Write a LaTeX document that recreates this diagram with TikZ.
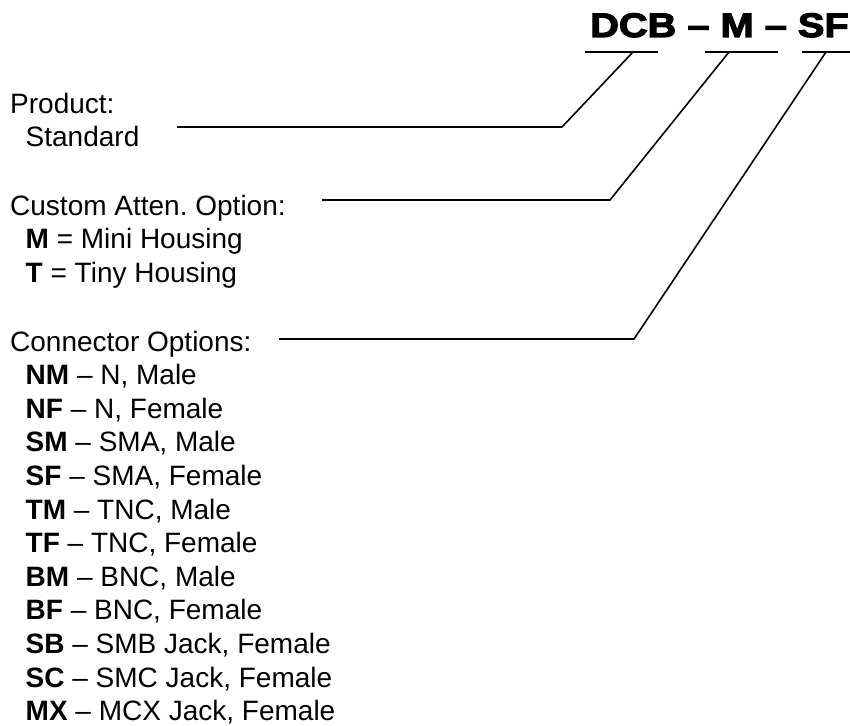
\documentclass[tikz,border=0pt]{standalone}
\usepackage{fontspec}
\setmainfont{Liberation Sans}
\newfontfamily\codefont{Liberation Sans}[UprightFont=* Bold, FakeStretch=1.17, FakeBold=3.5]
\usetikzlibrary{positioning}
\frenchspacing

\begin{document}
\begin{tikzpicture}[
  x=1pt, y=-1pt,
  every node/.style={inner sep=0pt, text=black},
  codetext/.style={font=\codefont\fontsize{34}{40}\selectfont, anchor=base west},
  keytext/.style={font=\fontsize{28}{33.6}\selectfont, align=left, anchor=base west},
  leader/.style={line width=1.6pt, line join=miter},
]

% Canvas
\useasboundingbox (0,0) rectangle (850,725);

% Part number
\node[codetext] (pn) at (590,37) {DCB – M – SF};

% Underlines below each field
\coordinate (dcbL) at (585,52);
\coordinate (dcbR) at (658,52);
\coordinate (attL) at (705,52);
\coordinate (attR) at (778,52);
\coordinate (conL) at (802,52);
\coordinate (conR) at (850,52);
\draw[leader] (dcbL) -- (dcbR);
\draw[leader] (attL) -- (attR);
\draw[leader] (conL) -- (conR);

% Product (anchored on the last line)
\node[keytext] (product) at (10,146.6) {Product:\\\hspace*{15.5pt}Standard};

% Custom attenuation
\node[keytext] (atten) at (10,282.2) {Custom Atten. Option:\\
  \hspace*{15.5pt}\textbf{M} = Mini Housing\\
  \hspace*{15.5pt}\textbf{T} = Tiny Housing};

% Connectors
\node[keytext] (conn) at (10,720.6) {Connector Options:\\
  \hspace*{15.5pt}\textbf{NM} – N, Male\\
  \hspace*{15.5pt}\textbf{NF} – N, Female\\
  \hspace*{15.5pt}\textbf{SM} – SMA, Male\\
  \hspace*{15.5pt}\textbf{SF} – SMA, Female\\
  \hspace*{15.5pt}\textbf{TM} – TNC, Male\\
  \hspace*{15.5pt}\textbf{TF} – TNC, Female\\
  \hspace*{15.5pt}\textbf{BM} – BNC, Male\\
  \hspace*{15.5pt}\textbf{BF} – BNC, Female\\
  \hspace*{15.5pt}\textbf{SB} – SMB Jack, Female\\
  \hspace*{15.5pt}\textbf{SC} – SMC Jack, Female\\
  \hspace*{15.5pt}\textbf{MX} – MCX Jack, Female};

% Leader lines
\coordinate (prodstart) at (177,127);
\coordinate (prodbend) at (562,127);
\coordinate (dcbtick) at (633,52);
\coordinate (attstart) at (322,200);
\coordinate (attbend) at (610,200);
\coordinate (atttick) at (729,52);
\coordinate (constart) at (279,339);
\coordinate (conbend) at (634,339);
\coordinate (contick) at (826,52);
\draw[leader] (prodstart) -- (prodbend) -- (dcbtick);
\draw[leader] (attstart) -- (attbend) -- (atttick);
\draw[leader] (constart) -- (conbend) -- (contick);

\end{tikzpicture}
\end{document}
